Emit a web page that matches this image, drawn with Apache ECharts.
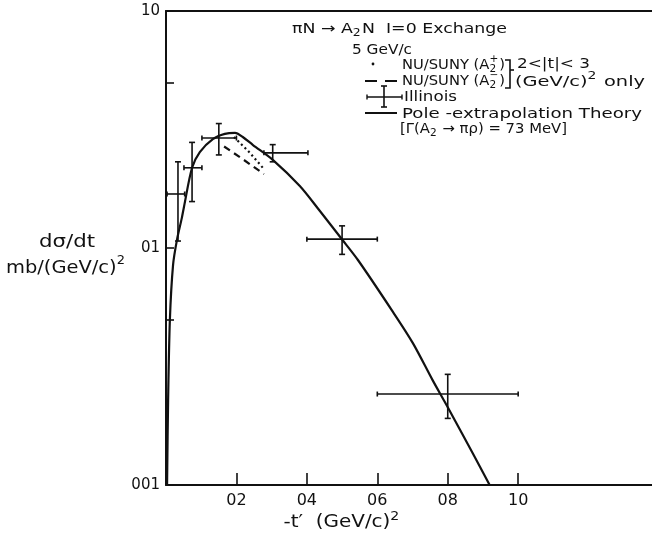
<!DOCTYPE html>
<html>
<head>
<meta charset="utf-8">
<script src="https://cdn.jsdelivr.net/npm/echarts@6/dist/echarts.min.js"></script>
<style>
  html, body { margin: 0; padding: 0; background: #fff; }
  #chart { width: 652px; height: 536px; }
</style>
</head>
<body>
<div id="chart"></div>
<script>
// dσ/dt (mb/(GeV/c)^2) against -t' ((GeV/c)^2), πN → A2N, I=0 exchange, 5 GeV/c

// Pole-extrapolation theory curve
const theoryT = [0.003, 0.006, 0.011, 0.020, 0.031, 0.045, 0.051, 0.074, 0.096, 0.133,
                 0.167, 0.196, 0.218, 0.247, 0.304, 0.380, 0.437, 0.499, 0.545, 0.641,
                 0.701, 0.757, 0.800, 0.871, 0.919];
const theoryV = [0.0100, 0.0228, 0.0497, 0.0847, 0.108, 0.134, 0.149, 0.218, 0.254, 0.288,
                 0.303, 0.306, 0.294, 0.272, 0.235, 0.1826, 0.1432, 0.1091, 0.089, 0.0547,
                 0.0397, 0.0277, 0.0213, 0.0136, 0.0100];

// NU/SUNY (A2-), dashed
const dashT = [0.165, 0.220, 0.278];
const dashV = [0.268, 0.236, 0.205];

// NU/SUNY (A2+), dotted
const dotT = [0.193, 0.235, 0.275];
const dotV = [0.294, 0.255, 0.218];

// Illinois points: centre, t' bin edges, value, error
const illT     = [0.034, 0.074, 0.150, 0.303, 0.500, 0.800];
const illTLow  = [0.003, 0.051, 0.102, 0.278, 0.400, 0.600];
const illTHigh = [0.053, 0.102, 0.200, 0.403, 0.600, 1.000];
const illV     = [0.169, 0.218, 0.291, 0.252, 0.109, 0.0242];
const illErr   = [0.062, 0.061, 0.044, 0.021, 0.015, 0.0051];

// Axis ticks and labels
const xTicks = [0.2, 0.4, 0.6, 0.8, 1.0];
const xTickLabels = ['02', '04', '06', '08', '10'];
const yTicks = [0.01, 0.05, 0.1, 0.5, 1];
const yLabelValues = [0.01, 0.1, 1];
const yTickLabels = ['001', '01', '10'];

const FONT = '"DejaVu Sans", sans-serif';
const INK = '#111';

const measureCtx = document.createElement('canvas').getContext('2d');
function textWidth(text, size) {
  measureCtx.font = size + 'px ' + FONT;
  return measureCtx.measureText(text).width;
}
function textEl(x, y, text, size, sx) {
  return {
    type: 'text', x: x, y: y, scaleX: sx, silent: true,
    style: { text: text, fontSize: size, fontFamily: FONT, fill: INK, verticalAlign: 'middle', align: 'left' }
  };
}
// Lay out a line of text pieces with sub/superscripts; pieces are strings or {sub, sup}.
// When a width is given, the line is stretched horizontally to fill it.
function richLine(x, y, pieces, size, align, width) {
  const small = Math.round(size * 0.68);
  const pieceW = p => typeof p === 'string' ? textWidth(p, size)
    : Math.max(p.sub ? textWidth(p.sub, small) : 0, p.sup ? textWidth(p.sup, small) : 0) + 1;
  const natural = pieces.reduce((s, p) => s + pieceW(p), 0);
  const sx = width ? width / natural : 1;
  let cx = align === 'center' ? x - natural * sx / 2 : x;
  const els = [];
  pieces.forEach(p => {
    if (typeof p === 'string') {
      els.push(textEl(cx, y, p, size, sx));
    } else {
      if (p.sub) els.push(textEl(cx, y + size * 0.32, p.sub, small, sx));
      if (p.sup) els.push(textEl(cx, y - size * 0.38, p.sup, small, sx));
    }
    cx += pieceW(p) * sx;
  });
  return els;
}
const stroke = (w) => ({ stroke: INK, lineWidth: w, fill: null });
const seg = (x1, y1, x2, y2, w) => ({ type: 'line', silent: true, shape: { x1, y1, x2, y2 }, style: stroke(w || 1.6) });

const chart = echarts.init(document.getElementById('chart'), null, { renderer: 'canvas' });

const LS = 14;  // legend font size
const legendEls = [].concat(
  richLine(292, 29, ['πN → A', { sub: '2' }, 'N  I=0 Exchange'], 14, 'left', 215),
  richLine(352, 50, ['5 GeV/c'], 14, 'left', 60),
  [{ type: 'circle', silent: true, shape: { cx: 373, cy: 64, r: 1.4 }, style: { fill: INK } }],
  richLine(402, 65, ['NU/SUNY (A', { sub: '2', sup: '+' }, ')'], LS, 'left', 103),
  [seg(365, 81, 377, 81, 2), seg(385, 81, 397, 81, 2)],
  richLine(402, 81, ['NU/SUNY (A', { sub: '2', sup: '−' }, ')'], LS, 'left', 103),
  [{ type: 'polyline', silent: true, shape: { points: [[505, 60], [510, 60], [510, 88], [505, 88]] }, style: stroke(1.6) },
   seg(510, 70, 514, 70)],
  richLine(517, 64, ['2<|t|< 3'], LS, 'left', 73),
  richLine(515, 82, ['(GeV/c)', { sup: '2' }, ' only'], LS, 'left', 130),
  [seg(367, 97, 402, 97), seg(367, 94.5, 367, 99.5, 1.4), seg(402, 94.5, 402, 99.5, 1.4),
   seg(384, 86, 384, 107), seg(381, 86, 387, 86), seg(381, 107, 387, 107)],
  richLine(404, 97, ['Illinois'], LS, 'left', 53),
  [seg(365, 113, 397, 113, 2)],
  richLine(402, 114, ['Pole -extrapolation Theory'], LS, 'left', 240),
  richLine(400, 129, ['[Γ(A', { sub: '2' }, ' → πρ) = 73 MeV]'], LS, 'left', 167),
  // y-axis title
  richLine(67, 242, ['dσ/dt'], 18, 'center', 56),
  richLine(66, 268, ['mb/(GeV/c)', { sup: '2' }], 18, 'center', 120),
  // x-axis title
  richLine(342, 523, ['-t′  (GeV/c)', { sup: '2' }], 17, 'center', 117)
);

const option = {
  animation: false,
  backgroundColor: '#fff',
  grid: { left: 166, top: 11, right: 0, bottom: 51, containLabel: false },
  xAxis: [{
    type: 'value', min: 0, max: 1.38,
    axisLine: { show: true, lineStyle: { color: INK, width: 2 } },
    axisTick: { show: true, inside: true, length: 12, customValues: xTicks, lineStyle: { color: INK, width: 1.6 } },
    axisLabel: {
      show: true, customValues: xTicks, margin: 8, fontSize: 16, fontFamily: FONT, color: INK,
      formatter: v => { const i = xTicks.findIndex(t => Math.abs(t - v) < 1e-6); return i >= 0 ? xTickLabels[i] : ''; }
    },
    splitLine: { show: false }
  }, {
    type: 'value', min: 0, max: 1.38, position: 'top',
    axisLine: { show: true, lineStyle: { color: INK, width: 2 } },
    axisTick: { show: false }, axisLabel: { show: false }, splitLine: { show: false }
  }],
  yAxis: {
    type: 'log', logBase: 10, min: 0.01, max: 1,
    axisLine: { show: true, lineStyle: { color: INK, width: 2 } },
    axisTick: { show: true, inside: true, length: 8, customValues: yTicks, lineStyle: { color: INK, width: 1.6 } },
    axisLabel: {
      show: true, customValues: yLabelValues, margin: 6, fontSize: 15, fontFamily: FONT, color: INK,
      formatter: v => { const i = yLabelValues.findIndex(t => Math.abs(Math.log10(t) - Math.log10(v)) < 1e-6); return i >= 0 ? yTickLabels[i] : ''; }
    },
    minorTick: { show: false },
    splitLine: { show: false }
  },
  graphic: legendEls,
  series: [
    {
      name: 'Pole-extrapolation Theory', type: 'line', smooth: 0.3, symbol: 'none',
      data: theoryT.map((t, i) => [t, theoryV[i]]),
      lineStyle: { color: INK, width: 2.2 }
    },
    {
      name: 'NU/SUNY (A2-)', type: 'line', symbol: 'none',
      data: dashT.map((t, i) => [t, dashV[i]]),
      lineStyle: { color: INK, width: 2.2, type: [7, 5] }
    },
    {
      name: 'NU/SUNY (A2+)', type: 'line', symbol: 'none',
      data: dotT.map((t, i) => [t, dotV[i]]),
      lineStyle: { color: INK, width: 2.2, type: [2, 3] }
    },
    {
      name: 'Illinois', type: 'custom',
      data: illT.map((t, i) => [t, illV[i], illTLow[i], illTHigh[i], illErr[i]]),
      encode: { x: 0, y: 1 },
      renderItem: function (params, api) {
        const t = api.value(0), v = api.value(1), tl = api.value(2), th = api.value(3), e = api.value(4);
        const c = api.coord([t, v]);
        const l = api.coord([tl, v]);
        const r = api.coord([th, v]);
        const top = api.coord([t, v + e]);
        const bot = api.coord([t, v - e]);
        const st = { stroke: INK, lineWidth: 1.6 };
        const line = (x1, y1, x2, y2) => ({ type: 'line', shape: { x1, y1, x2, y2 }, style: st });
        return {
          type: 'group',
          children: [
            line(l[0], c[1], r[0], c[1]),
            line(l[0], c[1] - 2.5, l[0], c[1] + 2.5),
            line(r[0], c[1] - 2.5, r[0], c[1] + 2.5),
            line(c[0], top[1], c[0], bot[1]),
            line(c[0] - 3, top[1], c[0] + 3, top[1]),
            line(c[0] - 3, bot[1], c[0] + 3, bot[1])
          ]
        };
      }
    }
  ]
};

chart.setOption(option);
</script>
</body>
</html>
